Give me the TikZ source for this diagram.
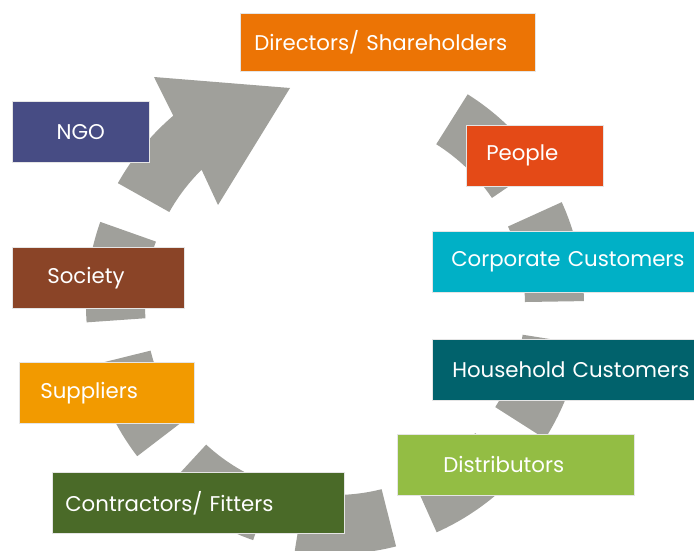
\documentclass[tikz,border=0pt]{standalone}
\usepackage{fontspec}
\setmainfont{Poppins}

\definecolor{ringgrey}{HTML}{A0A09B}
\definecolor{dirorange}{HTML}{EC7405}
\definecolor{ngoblue}{HTML}{474C84}
\definecolor{peoplered}{HTML}{E44A17}
\definecolor{corpcyan}{HTML}{00B0C6}
\definecolor{houseteal}{HTML}{01626C}
\definecolor{distgreen}{HTML}{93BD44}
\definecolor{socbrown}{HTML}{8A4427}
\definecolor{supporange}{HTML}{F29A00}
\definecolor{contgreen}{HTML}{4A6A28}

\begin{document}
\begin{tikzpicture}[x=1pt,y=1pt,
    seg/.style={fill=ringgrey},
    box/.style={rectangle, anchor=north west, draw=white!80!gray, line width=0.6pt,
        text=white, font=\fontsize{21.3}{25}\selectfont, minimum height=61pt,
        inner ysep=0pt, align=left}]
    \useasboundingbox (0,0) rectangle (694,550);
    \coordinate (ctr) at (335,245);
    % ring of blocks
    \foreach \a [evaluate=\a as \b using \a+23.5] in {160.5,193.9,227.3,260.7,294.1,327.5,360.9,394.3}
        \fill[seg] ([shift={(ctr)}]\a:249pt) arc[start angle=\a, end angle=\b, radius=249pt]
            -- ([shift={(ctr)}]\b:190pt) arc[start angle=\b, end angle=\a, radius=190pt] -- cycle;
    % arrow head block
    \fill[seg] ([shift={(ctr)}]150.7:249pt) arc[start angle=150.7, end angle=130.5, radius=249pt]
        -- (154,473) -- (290,462) -- (218,345)
        -- ([shift={(ctr)}]134.6:190pt) arc[start angle=134.6, end angle=150.7, radius=190pt] -- cycle;
    % stakeholders
    \node[box, fill=dirorange, minimum height=58pt, text width=267pt, inner xsep=14pt] (dirs) at (240,537) {Directors/ Shareholders};
    \node[box, fill=ngoblue, text width=137pt, inner xsep=0pt, align=center] (ngo) at (12,449) {NGO};
    \node[box, fill=peoplered, text width=97pt, inner xsep=20pt] (people) at (466,425) {People};
    \node[box, fill=corpcyan, text width=262pt, inner xsep=19pt] (corp) at (432,319) {Corporate Customers};
    \node[box, fill=houseteal, text width=262pt, inner xsep=20pt] (house) at (432,211) {Household Customers};
    \node[box, fill=distgreen, text width=145pt, inner xsep=46pt] (dist) at (397,116) {Distributors};
    \node[box, fill=socbrown, text width=102pt, inner xsep=35pt] (society) at (12,303) {Society};
    \node[box, fill=supporange, text width=133pt, inner xsep=21pt] (supp) at (19,188) {Suppliers};
    \node[box, fill=contgreen, text width=266pt, inner xsep=13pt] (cont) at (52,78) {Contractors/ Fitters};
\end{tikzpicture}
\end{document}
